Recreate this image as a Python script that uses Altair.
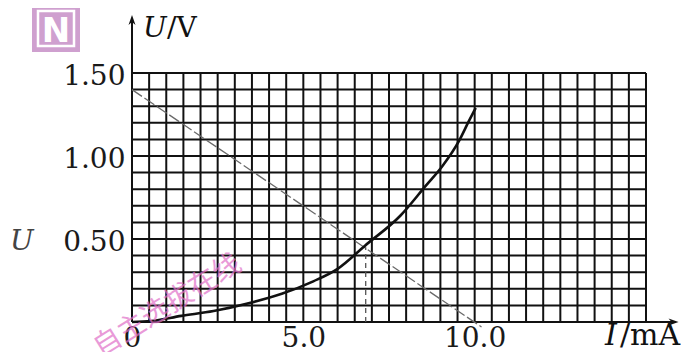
import altair as alt
import pandas as pd

# ---- data ----
curve_I = [0, 0.55, 1.44, 2.38, 3.34, 4.37, 5.29, 6.0, 6.8, 7.83, 8.57, 9.06, 9.54, 9.83, 10.03]
curve_U = [0, 0.006, 0.037, 0.066, 0.11, 0.17, 0.245, 0.32, 0.46, 0.64, 0.82, 0.94, 1.09, 1.21, 1.29]
load_I = [0, 10.2]
load_U = [1.40, -0.03]
cross_I = 6.82
cross_U = 0.45
x_ticks = [0, 5, 10]
y_ticks = [0.5, 1.0, 1.5]
grid_x = [i * 0.5 for i in range(31)]
grid_y = [round(i * 0.1, 2) for i in range(16)]
x_max, y_max = 15, 1.5
x_arrow, y_arrow = 15.95, 1.85

W, H = 514, 249
SERIF = "DejaVu Serif"

xs = alt.Scale(domain=[0, x_max], nice=False, zero=False)
ys = alt.Scale(domain=[0, y_max], nice=False, zero=False)

x_axis = alt.Axis(values=x_ticks,
                  labelExpr="datum.value == 0 ? '0' : format(datum.value, '.1f')",
                  labelFont=SERIF, labelFontSize=28, labelColor="#1a1a1a",
                  labelPadding=2, ticks=False, domain=False, grid=False,
                  title=None, labelFlush=False)
y_axis = alt.Axis(values=y_ticks, format=".2f",
                  labelFont=SERIF, labelFontSize=28, labelColor="#1a1a1a",
                  labelPadding=7, ticks=False, domain=False, grid=False,
                  title=None, labelOffset=3)


def X(field):
    return alt.X(field, type="quantitative", scale=xs, axis=x_axis)


def Y(field):
    return alt.Y(field, type="quantitative", scale=ys, axis=y_axis)


gv = pd.DataFrame({"x": grid_x, "y0": [0] * len(grid_x), "y1": [y_max] * len(grid_x)})
gh = pd.DataFrame({"y": grid_y, "x0": [0] * len(grid_y), "x1": [x_max] * len(grid_y)})

grid_v = alt.Chart(gv).mark_rule(color="#111", strokeWidth=2).encode(
    x=X("x"), y=Y("y0"), y2="y1:Q")
grid_h = alt.Chart(gh).mark_rule(color="#111", strokeWidth=2).encode(
    y=Y("y"), x=X("x0"), x2="x1:Q")

ax = pd.DataFrame({"x0": [0, 0], "x1": [x_arrow - 0.1, 0], "y0": [0, 0], "y1": [0, y_arrow - 0.03]})
axes = alt.Chart(ax).mark_rule(color="#111", strokeWidth=2).encode(
    x=X("x0"), x2="x1:Q", y=Y("y0"), y2="y1:Q")

arr_y = alt.Chart(pd.DataFrame({"x": [0], "y": [y_arrow]})).mark_point(
    shape="M0,0L-0.7,2L0,1.4L0.7,2Z", size=100, filled=True, color="#111", opacity=1).encode(
    x=X("x"), y=Y("y"))
arr_x = alt.Chart(pd.DataFrame({"x": [x_arrow], "y": [0]})).mark_point(
    shape="M0,0L-2,-0.7L-1.4,0L-2,0.7Z", size=100, filled=True, color="#111", opacity=1).encode(
    x=X("x"), y=Y("y"))

load = alt.Chart(pd.DataFrame({"I": load_I, "U": load_U})).mark_line(
    color="#6a6a6a", strokeWidth=1.3, strokeDash=[12, 3]).encode(
    x=X("I"), y=Y("U"))

drop = alt.Chart(pd.DataFrame({"I": [cross_I], "U0": [0], "U1": [cross_U]})).mark_rule(
    color="#555", strokeWidth=1.3, strokeDash=[5, 4]).encode(
    x=X("I"), y=Y("U0"), y2="U1:Q")

curve = alt.Chart(pd.DataFrame({"I": curve_I, "U": curve_U})).mark_line(
    color="#111", strokeWidth=2.6, interpolate="monotone").encode(
    x=X("I"), y=Y("U"))


def txt(s, x, y, size=26, italic=False, color="#111", font=SERIF, align="left",
        angle=0, weight="normal", opacity=1.0):
    kw = dict(text=s, font=font, fontSize=size, color=color, align=align,
              baseline="alphabetic", fontWeight=weight, opacity=opacity)
    if italic:
        kw["fontStyle"] = "italic"
    if angle:
        kw["angle"] = angle
    return alt.Chart(pd.DataFrame({"a": [0]})).mark_text(**kw).encode(
        x=alt.value(x), y=alt.value(y))


labels = [
    txt("U", 11, -36, size=28, italic=True),
    txt("/V", 35, -36, size=28),
    txt("I", 473, 272, size=30, italic=True),
    txt("/mA", 488, 272, size=30),
    txt("U", -122, 177, size=28, italic=True, color="#444"),
]

logo_box = alt.Chart(pd.DataFrame({"a": [0]})).mark_rect(color="#cfa0cf").encode(
    x=alt.value(-100), x2=alt.value(-52), y=alt.value(-68), y2=alt.value(-21))
logo_frame = alt.Chart(pd.DataFrame({"a": [0]})).mark_rect(
    filled=False, stroke="white", strokeWidth=2.5).encode(
    x=alt.value(-94), x2=alt.value(-58), y=alt.value(-62), y2=alt.value(-27))
logo = [logo_box, logo_frame,
        txt("N", -76, -31, size=34, color="white", align="center", weight="bold",
            font="DejaVu Sans"),
        txt("自主选拔在线", 40, 240, size=28, color="#e070c8", align="center",
            angle=328, font="Noto Sans CJK SC", opacity=0.7)]

chart = alt.layer(grid_v, grid_h, axes, arr_y, arr_x, load, drop, curve,
                  *labels, *logo).properties(
    width=W, height=H,
    padding={"left": 124, "top": 65, "right": 35, "bottom": 30},
    autosize=alt.AutoSizeParams(type="none"),
).configure_view(stroke=None).configure(background="white")

chart.save("out.html", embed_options={"renderer": "svg", "actions": False})
